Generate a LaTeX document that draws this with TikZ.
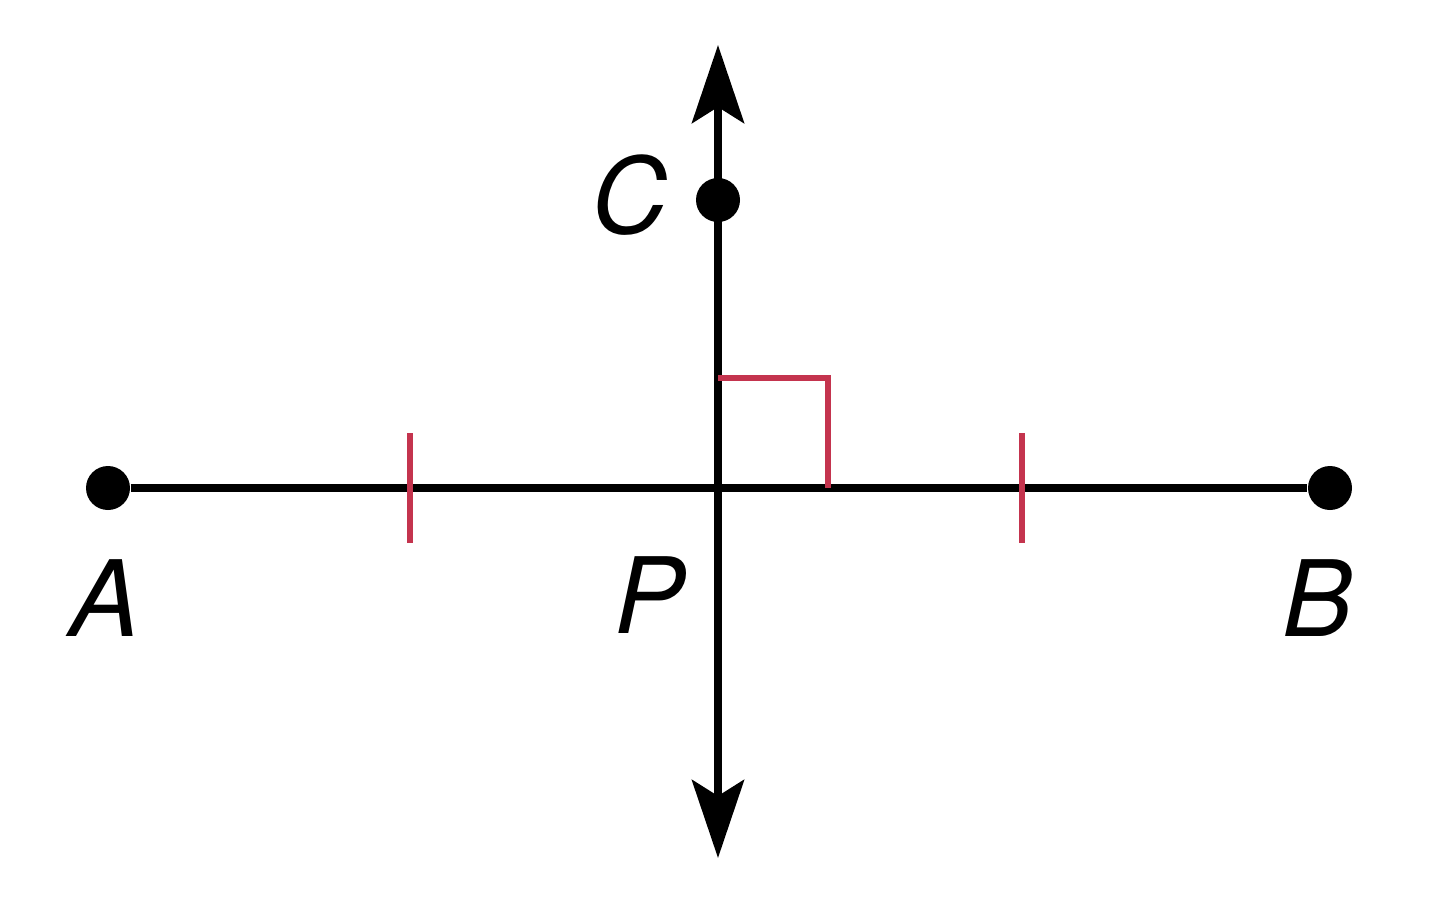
\documentclass[tikz,border=0pt]{standalone}
\usepackage{fontspec}
\setmainfont{TeX Gyre Heros}
\usetikzlibrary{arrows.meta, positioning}

\definecolor{markred}{RGB}{196,52,78}

\begin{document}
\begin{tikzpicture}[
    pt/.style={circle, fill=black, inner sep=0pt, minimum size=0.44cm},
    ptlabel/.style={font=\fontsize{30}{36}\selectfont\itshape, inner sep=0pt},
    segline/.style={line width=0.08cm},
    lineline/.style={line width=0.08cm, {Stealth[length=0.78cm, width=0.52cm, inset=0.16cm]}-{Stealth[length=0.78cm, width=0.52cm, inset=0.16cm]}},
    tickmark/.style={line width=0.06cm, markred},
    rightmark/.style={line width=0.06cm, markred}
]
    \useasboundingbox (0,0) rectangle (14.4,-9.17);

    % Points
    \node[pt] (A) at (1.08,-4.88) {};
    \node[pt] (B) at (13.30,-4.88) {};
    \node[pt] (C) at (7.18,-2.00) {};
    \coordinate (P) at (7.18,-4.88);
    \coordinate (top) at (7.18,-0.45);
    \coordinate (bot) at (7.18,-8.58);

    % Segment AB and line CP
    \draw[segline] (A) -- (B);
    \draw[lineline] (top) -- (bot);

    % Congruence ticks
    \coordinate (tickL) at (4.10,-4.88);
    \coordinate (tickR) at (10.22,-4.88);
    \draw[tickmark] ([yshift=0.55cm]tickL) -- ([yshift=-0.55cm]tickL);
    \draw[tickmark] ([yshift=0.55cm]tickR) -- ([yshift=-0.55cm]tickR);

    % Right angle
    \draw[rightmark] ([yshift=1.10cm]P) -- ++(1.10,0) -- ++(0,-1.10);

    % Labels
    \node[ptlabel] (lA) at (1.05,-5.98) {A};
    \node[ptlabel] (lB) at (13.18,-5.98) {B};
    \node[ptlabel] (lP) at (6.50,-5.95) {P};
    \node[ptlabel] (lC) at (6.30,-1.95) {C};
\end{tikzpicture}
\end{document}
